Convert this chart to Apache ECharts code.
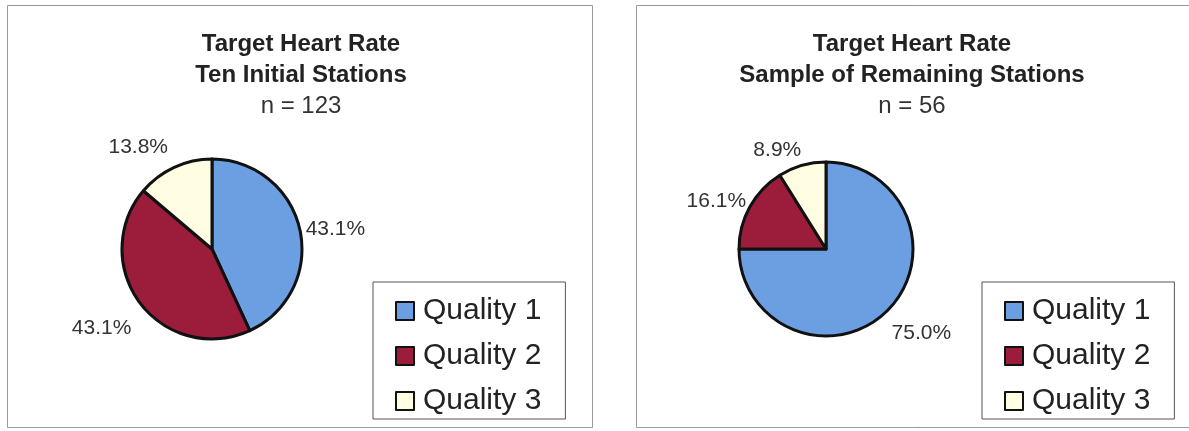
<!DOCTYPE html>
<html>
<head>
<meta charset="utf-8">
<script src="https://cdn.jsdelivr.net/npm/echarts@6/dist/echarts.min.js"></script>
<style>
  html, body { margin: 0; padding: 0; background: #fff; }
  #heartChart { width: 1189px; height: 431px; }
</style>
</head>
<body>
<div id="heartChart"></div>
<script>
// categories shared by both pies
let qualityNames = ['Quality 1', 'Quality 2', 'Quality 3'];
// percentages
let initialStations = [43.1, 43.1, 13.8];
let remainingStations = [75.0, 16.1, 8.9];
let titles = ['Target Heart Rate\nTen Initial Stations', 'Target Heart Rate\nSample of Remaining Stations'];
let sampleSizes = ['n = 123', 'n = 56'];

let sliceColors = ['#6c9fe2', '#9c1c3c', '#fffde2'];
let fontFam = 'Liberation Sans, Arial, sans-serif';

// small nudges so the % labels sit where the original put them (best fit style)
let leftNudge = [[-9, 2], [4, 19], [3, -11]];
let rightNudge = [[-8, 16], [10, -1], [7, -6]];

let myChart = echarts.init(document.getElementById('heartChart'));

function toPieData(values) {
    return values.map((v, i) => ({ name: qualityNames[i], value: v, itemStyle: { color: sliceColors[i] } }));
}

function makeTitle(i, centerX) {
    return {
        text: titles[i],
        subtext: sampleSizes[i],
        left: centerX,
        top: 29,
        textAlign: 'center',
        padding: 0,
        itemGap: 0,
        textStyle: { fontFamily: fontFam, fontSize: 24, fontWeight: 'bold', color: '#222', lineHeight: 31 },
        subtextStyle: { fontFamily: fontFam, fontSize: 24, color: '#333', lineHeight: 31 }
    };
}

function makeLegend(x, y) {
    return {
        orient: 'vertical',
        left: x,
        top: y,
        data: qualityNames,
        icon: 'rect',
        itemWidth: 18,
        itemHeight: 18,
        itemGap: 15,
        padding: [14, 24, 3, 22],
        borderColor: '#555',
        borderWidth: 1,
        selectedMode: false,
        itemStyle: { borderColor: '#111', borderWidth: 2 },
        textStyle: { fontFamily: fontFam, fontSize: 30, color: '#222', padding: [0, 0, 0, 4] }
    };
}

function makePie(values, center, r, nudge) {
    return {
        type: 'pie',
        center: center,
        radius: r,
        startAngle: 90,
        clockwise: true,
        animation: false,
        data: toPieData(values),
        itemStyle: { borderColor: '#111', borderWidth: 3 },
        label: {
            show: true,
            position: 'outside',
            formatter: p => p.value.toFixed(1) + '%',
            fontFamily: fontFam,
            fontSize: 21,
            color: '#333'
        },
        labelLine: { show: false, length: 10, length2: 0 },
        labelLayout: params => ({ dx: nudge[params.dataIndex][0], dy: nudge[params.dataIndex][1] }),
        emphasis: { disabled: true }
    };
}

myChart.setOption({
    backgroundColor: '#fff',
    title: [makeTitle(0, 301), makeTitle(1, 912)],
    legend: [makeLegend(373, 282), makeLegend(982, 282)],
    series: [
        makePie(initialStations, [212, 249], 90, leftNudge),
        makePie(remainingStations, [826, 249], 87, rightNudge)
    ],
    graphic: [
        { type: 'rect', shape: { x: 7.5, y: 5.5, width: 585, height: 422 }, style: { fill: 'none', stroke: '#999', lineWidth: 1 } },
        { type: 'rect', shape: { x: 636.5, y: 5.5, width: 560, height: 422 }, style: { fill: 'none', stroke: '#999', lineWidth: 1 } }
    ]
});
</script>
</body>
</html>
